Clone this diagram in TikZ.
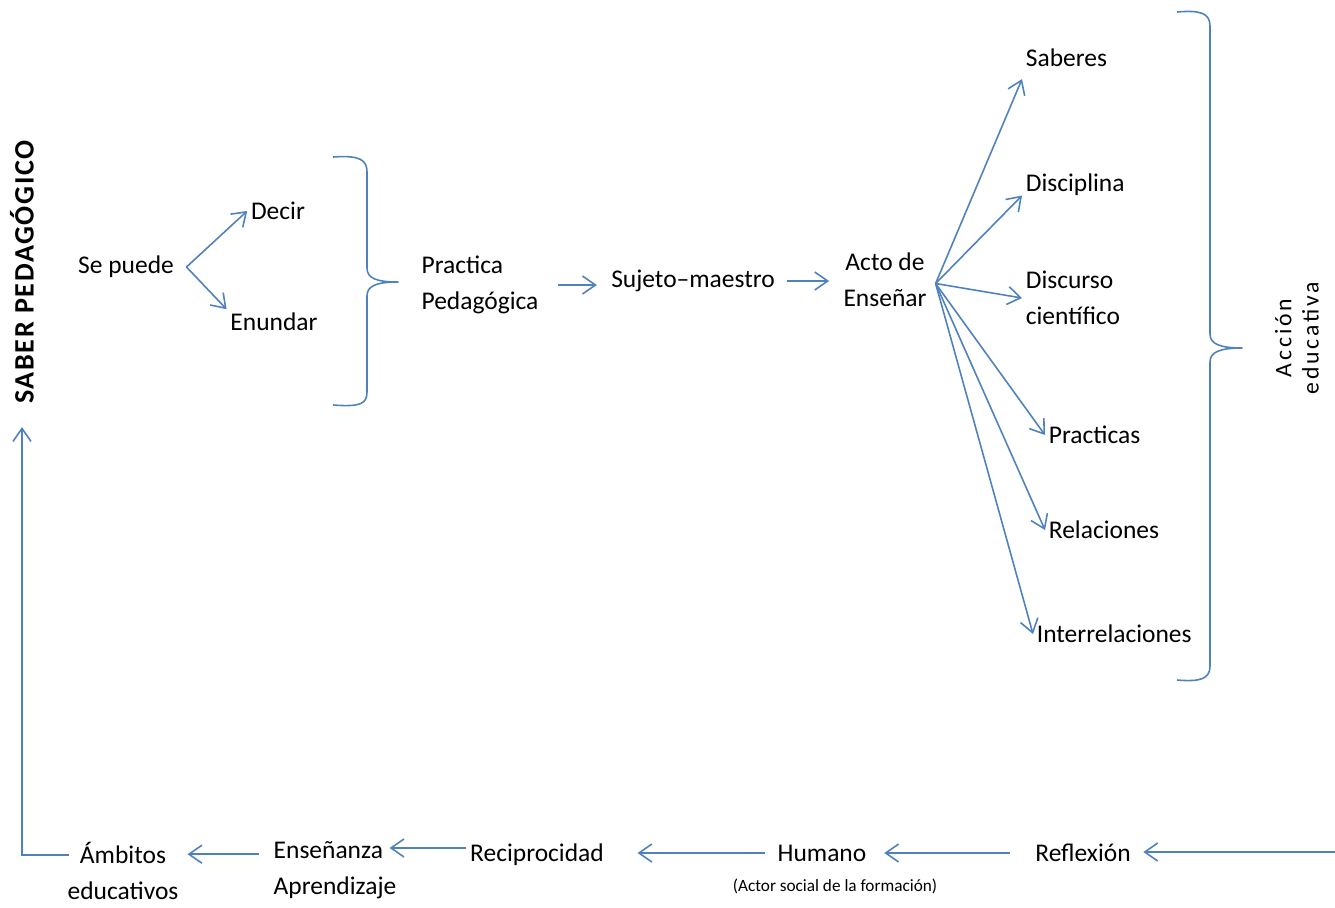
\documentclass[tikz,border=0pt]{standalone}
\usepackage{fontspec}
\setmainfont{Carlito}
\definecolor{azul}{RGB}{79,129,189}
\usepackage{tikz}
\usetikzlibrary{arrows.meta,calc}

\begin{document}
\begin{tikzpicture}[x=0.02cm,y=-0.02cm,
    txt/.style={inner sep=2pt, font=\fontsize{14.5}{20.5}\selectfont},
    arr/.style={draw=azul, line width=0.9pt, -{Straight Barb[length=2.6mm,width=3.6mm]}},
    llave/.style={draw=azul, line width=0.9pt, line join=round}]
      \useasboundingbox (0,0) rectangle (1335,907);
      % titulo vertical
      \node[txt, rotate=90, font=\fontsize{16}{18}\selectfont\bfseries\addfontfeatures{LetterSpace=6}] (saber) at (22,272) {SABER PEDAGÓGICO};

      % fila superior
      \node[txt] (se) at (126,267) {Se puede};
      \node[txt] (decir) at (278,211) {Decir};
      \node[txt] (enundar) at (274,322) {Enundar};
      \node[txt, align=left] (practica) at (480,285) {Practica\\Pedagógica};
      \node[txt] (sujeto) at (693,281) {Sujeto–maestro};
      \node[txt, align=center] (acto) at (885,280) {Acto de\\Enseñar};

      \draw[arr] ([xshift=5pt]se.east) -- (decir.west);
      \draw[arr] ([xshift=5pt]se.east) -- (enundar.north west);
      \draw[arr, shorten <=9pt, shorten >=6pt] (practica.east) -- (practica.east -| sujeto.west);
      \draw[arr, shorten <=5pt, shorten >=6pt] (sujeto.east) -- (sujeto.east -| acto.west);

      % llave izquierda
      \coordinate (punta1) at (398,282);
      \draw[llave] (333,157) .. controls (360,155) and (367,160) .. (367,172) -- (367,268)
        .. controls (367,278) and (376,282) .. (punta1) .. controls (376,282) and (367,286) .. (367,296)
        -- (367,392) .. controls (367,404) and (360,407) .. (333,405);

      % abanico del acto de ensenar
      \node[txt, anchor=west] (saberes) at (1022,58) {Saberes};
      \node[txt, anchor=west] (disciplina) at (1022,185) {Disciplina};
      \node[txt, anchor=west, align=left] (discurso) at (1022,298) {Discurso\\científico};
      \node[txt, anchor=west] (practicas) at (1045,435) {Practicas};
      \node[txt, anchor=west] (relaciones) at (1045,530) {Relaciones};
      \node[txt, anchor=west] (interrel) at (1033,634) {Interrelaciones};

      \coordinate (fan) at ([xshift=3pt,yshift=-2pt]acto.east);
      \draw[arr] (fan) -- ([yshift=-12pt]saberes.west);
      \draw[arr] (fan) -- ([yshift=-6pt]disciplina.west);
      \foreach \d in {discurso,practicas,relaciones,interrel}
        \draw[arr] (fan) -- (\d.west);

      % llave derecha
      \coordinate (punta2) at (1242,348);
      \draw[llave] (1177,12) .. controls (1200,10) and (1210,13) .. (1210,26) -- (1210,334)
        .. controls (1210,344) and (1220,348) .. (punta2) .. controls (1220,348) and (1210,352) .. (1210,362)
        -- (1210,666) .. controls (1210,679) and (1200,682) .. (1177,680);
      \node[txt, rotate=90, align=center, font=\fontsize{13.5}{15.5}\selectfont\addfontfeatures{LetterSpace=12}] (accion) at (1297,338) {Acción\\educativa};

      % fila inferior
      \coordinate (entrada) at (1335,852);
      \node[txt] (reflexion) at (1083,853) {Reflexión};
      \node[txt] (humano) at (822,853) {Humano};
      \node[inner sep=1pt, font=\fontsize{9.8}{11}\selectfont] (actor) at (835,886) {(Actor social de la formación)};
      \node[txt] (reciproc) at (537,855) {Reciprocidad};
      \node[txt, align=left] (ensenanza) at (335,870) {Enseñanza\\Aprendizaje};
      \node[txt, align=center] (ambitos) at (123,871) {Ámbitos\\educativos};

      \draw[arr, shorten >=5pt] (entrada) -- (entrada -| reflexion.east);
      \draw[arr, shorten <=12pt, shorten >=8pt] (reflexion.west) -- (reflexion.west -| humano.east);
      \draw[arr, shorten <=5pt, shorten >=17pt] (humano.west) -- (humano.west -| reciproc.east);
      \draw[arr, shorten >=-6pt] ([yshift=4pt]reciproc.west) -- ([yshift=4pt]reciproc.west -| ensenanza.east);
      \draw[arr, shorten <=6pt, shorten >=3pt] ([yshift=9pt]ensenanza.west) -- ([yshift=9pt]ensenanza.west -| ambitos.east);
      \draw[arr, shorten >=11pt] ([xshift=3pt,yshift=9pt]ambitos.west) -| (saber.west);
\end{tikzpicture}
\end{document}
